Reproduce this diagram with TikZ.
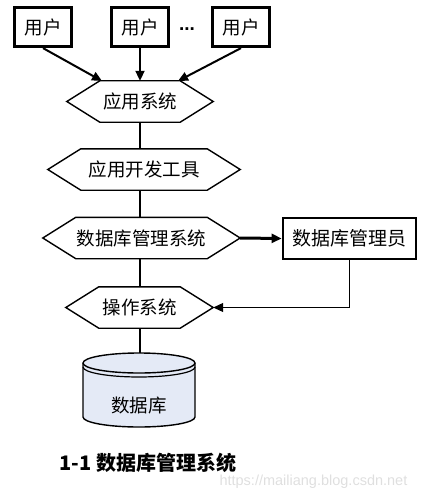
\documentclass[tikz,border=0pt]{standalone}
\usepackage{fontspec}
\newfontfamily\cjk{Noto Sans CJK SC}
\newfontfamily\latin{Liberation Sans}
\usetikzlibrary{arrows.meta, positioning}
\definecolor{dbfill}{RGB}{228,234,246}
\tikzset{
	>={Triangle[length=10pt, width=9pt]},
	every node/.style={font=\cjk\fontsize{18.5}{20}\selectfont},
	userbox/.style={draw, line width=3.2pt, minimum width=57pt, minimum height=39pt, inner sep=0pt},
	hexbox/.style={minimum height=41pt, inner sep=0pt,
		append after command={\pgfextra{\draw[line width=1.4pt]
			(\tikzlastnode.west) -- ([xshift=33pt]\tikzlastnode.north west)
			-- ([xshift=-33pt]\tikzlastnode.north east) -- (\tikzlastnode.east)
			-- ([xshift=-33pt]\tikzlastnode.south east)
			-- ([xshift=33pt]\tikzlastnode.south west) -- cycle;}}},
	link/.style={line width=2pt}
}
\begin{document}
\begin{tikzpicture}[x=1pt, y=-1pt]
	\useasboundingbox (0,0) rectangle (434,500);
	% users
	\node[userbox] (u1) at (43,27) {用户};
	\node[userbox] (u2) at (140,27) {用户};
	\node[userbox] (u3) at (241,27) {用户};
	\node[font=\latin\bfseries\fontsize{19}{20}\selectfont] (dots) at (187,29) {...};

	% layers
	\node[hexbox, minimum width=146pt] (app) at (140,101.5) {应用系统};
	\node[hexbox, minimum width=192pt] (tools) at (144,169.5) {应用开发工具};
	\node[hexbox, minimum width=197pt] (dbms) at (141.5,238) {数据库管理系统};
	\node[hexbox, minimum width=147pt] (os) at (139.5,307.5) {操作系统};
	\node[draw, line width=2.8pt, minimum width=133pt, minimum height=41pt, inner sep=0pt, font=\cjk\fontsize{19}{20}\selectfont] (admin) at (349.5,238.5) {数据库管理员};

	% database
	\coordinate (dbtop) at (139,353);
	\filldraw[fill=dbfill, line width=1.4pt]
		(83,363) -- (83,417) arc[start angle=180, end angle=0, x radius=56, y radius=10]
		-- (195,363) arc[start angle=0, end angle=-180, x radius=56, y radius=10] -- cycle;
	\draw[line width=1.4pt] (83,363) arc[start angle=180, end angle=0, x radius=56, y radius=10];
	\draw[line width=1.2pt] (83,367) arc[start angle=180, end angle=0, x radius=56, y radius=10];
	\node (db) at (139,406) {数据库};

	% arrows
	\coordinate (in1) at (102,81);
	\coordinate (in3) at (178,81);
	\draw[link, ->] (u1.south) -- (in1);
	\draw[link, ->] (u2.south) -- (app.north);
	\draw[link, ->] (u3.south) -- (in3);
	\draw[link] (app.south) -- (tools.north -| app.south);
	\draw[link] (tools.south -| app.south) -- (dbms.north -| app.south);
	\draw[link] (dbms.south -| app.south) -- (os.north -| app.south);
	\draw[link] (os.south -| app.south) -- (dbtop -| app.south);
	\draw[line width=3pt, ->] (dbms.east) -- (admin.west);
	\draw[line width=1pt, ->] (admin.south) |- (os.east);

	% caption
	\node[anchor=west, font=\cjk\bfseries\fontsize{20}{22}\selectfont] (caption) at (56,463) {1-1 数据库管理系统};
	\node[anchor=west, text=gray!25, font=\latin\fontsize{14.5}{16}\selectfont] (mark) at (216,482) {https://mailiang.blog.csdn.net};
\end{tikzpicture}
\end{document}
